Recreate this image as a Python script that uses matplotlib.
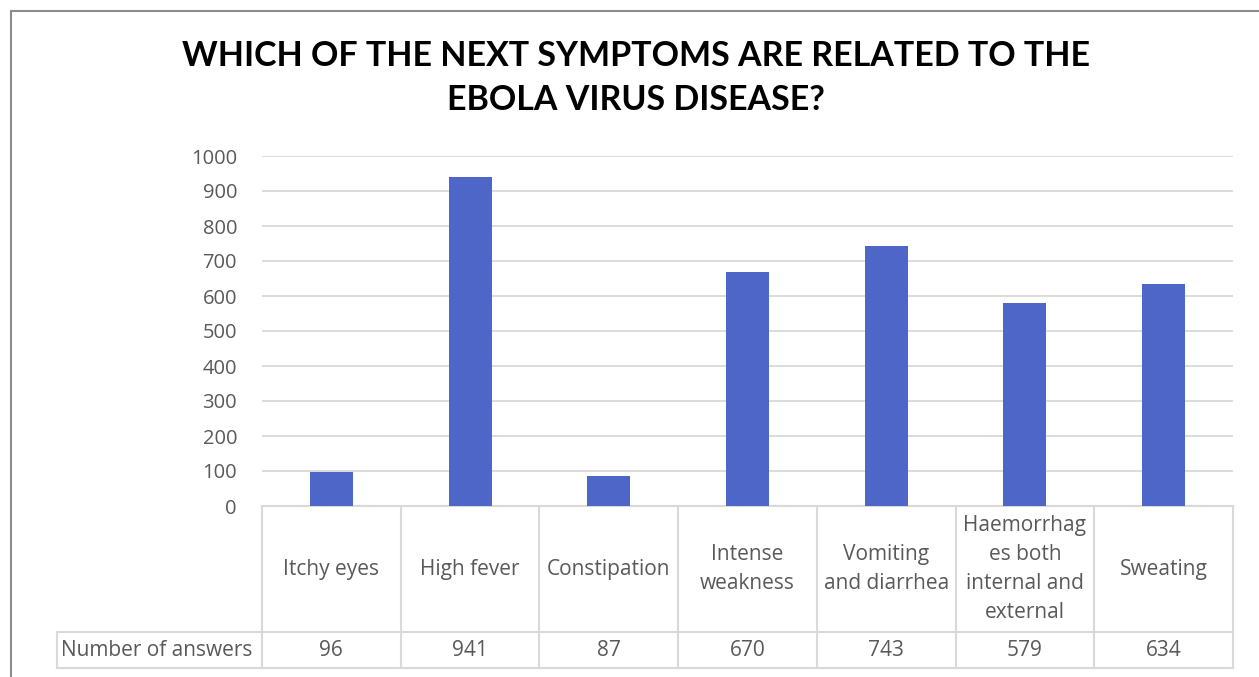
import matplotlib.pyplot as plt
from matplotlib.lines import Line2D
from matplotlib.transforms import blended_transform_factory

categories = ["Itchy eyes", "High fever", "Constipation", "Intense\nweakness",
              "Vomiting\nand diarrhea", "Haemorrhag\nes both\ninternal and\nexternal",
              "Sweating"]
answers = [96, 941, 87, 670, 743, 579, 634]
series_name = "Number of answers"
yticks = [0, 100, 200, 300, 400, 500, 600, 700, 800, 900, 1000]

bar_color = "#4F66C9"
grid_color = "#D9D9D9"
text_color = "#595959"
font = "Open Sans"

W, H = 1259, 677
fig = plt.figure(figsize=(W / 100, H / 100), dpi=100)

# plot area in pixel terms
left, right, top, bottom = 262, 1233, 156, 506
ax = fig.add_axes([left / W, 1 - bottom / H, (right - left) / W, (bottom - top) / H])

x = range(len(categories))
ax.bar(x, answers, width=0.31, color=bar_color, zorder=3)
ax.set_xlim(-0.5, len(categories) - 0.5)
ax.set_ylim(0, 1000)
ax.set_yticks(yticks)
ax.set_yticklabels([str(v) for v in yticks], fontsize=14.5, color=text_color,
                   family=font)
ax.tick_params(axis="y", length=0, pad=18)
ax.set_xticks([])
ax.grid(axis="y", color=grid_color, linewidth=1.3, zorder=0)
for s in ax.spines.values():
    s.set_visible(False)

# data table below the axis
tr = blended_transform_factory(ax.transData, ax.transAxes)
px = 1.0 / (bottom - top)
row_mid = -(632 - bottom) * px
row_bot = -(668 - bottom) * px
lab_left = -0.5 - (left - 57) / ((right - left) / len(categories))
n = len(categories)
lkw = dict(color=grid_color, linewidth=1.5, transform=tr, clip_on=False)
ax.add_line(Line2D([-0.5, n - 0.5], [0, 0], **lkw))
ax.add_line(Line2D([lab_left, n - 0.5], [row_mid, row_mid], **lkw))
ax.add_line(Line2D([lab_left, n - 0.5], [row_bot, row_bot], **lkw))
ax.add_line(Line2D([lab_left, lab_left], [row_mid, row_bot], **lkw))
for i in range(n + 1):
    ax.add_line(Line2D([i - 0.5, i - 0.5], [0, row_bot], **lkw))

tkw = dict(transform=tr, ha="center", va="center", fontsize=15,
           color=text_color, family=font, linespacing=1.48)
for i, (c, v) in enumerate(zip(categories, answers)):
    ax.text(i, row_mid / 2, c, **tkw)
    ax.text(i, (row_mid + row_bot) / 2, str(v), **tkw)
ax.text(lab_left + 0.03, (row_mid + row_bot) / 2, series_name,
        **{**tkw, "ha": "left"})

fig.text(636 / W, 1 - 78 / H,
         "WHICH OF THE NEXT SYMPTOMS ARE RELATED TO THE\nEBOLA VIRUS DISEASE?",
         ha="center", va="center", fontsize=24.5, fontweight="bold",
         family="Lato", color="black", linespacing=1.45)

# outer chart frame (left and top edges visible)
fkw = dict(color="#8C8C8C", linewidth=1.5, transform=fig.transFigure)
fig.add_artist(Line2D([11 / W, 11 / W], [0, 1 - 11 / H], **fkw))
fig.add_artist(Line2D([11 / W, 1], [1 - 11 / H, 1 - 11 / H], **fkw))

fig.savefig("out.png", dpi=100, facecolor="white")
